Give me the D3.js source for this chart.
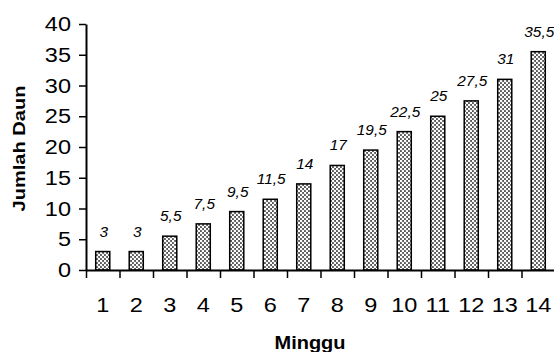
<!DOCTYPE html>
<html lang="en">
<head>
    <meta charset="UTF-8">
    <title>Jumlah Daun</title>
    <script src="https://d3js.org/d3.v7.min.js"></script>
    <style>
        body { margin: 0; background: #fff; }
        svg { display: block; }
    </style>
</head>
<body>
<div id="chart"></div>

<script>
    const weeks = ["1", "2", "3", "4", "5", "6", "7", "8", "9", "10", "11", "12", "13", "14"];
    const leaves = [3, 3, 5.5, 7.5, 9.5, 11.5, 14, 17, 19.5, 22.5, 25, 27.5, 31, 35.5];
    const yTicks = [0, 5, 10, 15, 20, 25, 30, 35, 40];

    const width = 554, height = 352;
    const plotLeft = 86, plotRight = 555, plotTop = 24, plotBottom = 270;
    const font = "'Liberation Sans', Arial, sans-serif";

    let svg = d3.select("#chart")
        .append("svg")
        .attr("width", width)
        .attr("height", height);

    // hatched grey fill like the old excel bars
    let pat = svg.append("defs").append("pattern")
        .attr("id", "hatch")
        .attr("patternUnits", "userSpaceOnUse")
        .attr("width", 4)
        .attr("height", 4);
    pat.append("rect").attr("width", 4).attr("height", 4).attr("fill", "#5a5a5a");
    pat.append("circle").attr("cx", 1).attr("cy", 1).attr("r", 1.25).attr("fill", "#fff");
    pat.append("circle").attr("cx", 3).attr("cy", 3).attr("r", 1.25).attr("fill", "#fff");

    let x = d3.scaleBand().domain(weeks).range([plotLeft, plotRight]).paddingInner(0.58).paddingOuter(0.29);
    let xEdge = d3.scaleLinear().domain([0, weeks.length]).range([plotLeft, plotRight]);
    let y = d3.scaleLinear().domain([0, 40]).range([plotBottom, plotTop]);

    // bars
    svg.append("g").selectAll("rect")
        .data(leaves)
        .join("rect")
        .attr("x", (d, i) => x(weeks[i]))
        .attr("y", d => y(d))
        .attr("width", x.bandwidth())
        .attr("height", d => y(0) - y(d))
        .attr("fill", "url(#hatch)")
        .attr("stroke", "#000")
        .attr("stroke-width", 1.5);

    // value labels
    svg.append("g").selectAll("text")
        .data(leaves)
        .join("text")
        .attr("transform", (d, i) => `translate(${x(weeks[i]) + x.bandwidth() / 2 + 1},${y(d) - 15}) scale(1.1,1)`)
        .attr("text-anchor", "middle")
        .style("font-family", font)
        .style("font-style", "italic")
        .style("font-size", "14px")
        .text(d => String(d).replace(".", ","));

    // y axis
    let yAxis = svg.append("g")
        .attr("transform", `translate(${plotLeft},0)`)
        .call(d3.axisLeft(y).tickValues(yTicks).tickSizeInner(7).tickSizeOuter(0));
    yAxis.select(".domain").attr("stroke-width", 2);
    yAxis.selectAll(".tick line").attr("stroke-width", 1.5);
    yAxis.selectAll(".tick text")
        .attr("x", null)
        .attr("transform", "translate(-15,0) scale(1.12,1)")
        .attr("fill", "#000")
        .style("font-family", font)
        .style("font-size", "21px");

    // x axis: ticks between categories
    let xAxis = svg.append("g")
        .attr("transform", `translate(0,${plotBottom})`)
        .call(d3.axisBottom(xEdge).tickValues(d3.range(0, weeks.length + 1)).tickFormat("").tickSizeInner(8).tickSizeOuter(0));
    xAxis.select(".domain").attr("stroke-width", 2);
    xAxis.selectAll(".tick line").attr("stroke-width", 1.5);

    let xLabels = svg.append("g")
        .attr("transform", `translate(0,${plotBottom})`)
        .call(d3.axisBottom(x).tickSize(0));
    xLabels.select(".domain").remove();
    xLabels.selectAll(".tick text")
        .attr("y", null)
        .attr("dy", null)
        .attr("transform", "translate(0,42) scale(1.12,1)")
        .attr("fill", "#000")
        .style("font-family", font)
        .style("font-size", "21px");

    // axis titles
    svg.append("text")
        .attr("transform", "translate(310,349) scale(1.11,1)")
        .attr("text-anchor", "middle")
        .style("font-family", font)
        .style("font-weight", "bold")
        .style("font-size", "18px")
        .text("Minggu");

    svg.append("text")
        .attr("transform", "translate(25,148.5) rotate(-90) scale(1.18,1)")
        .attr("text-anchor", "middle")
        .style("font-family", font)
        .style("font-weight", "bold")
        .style("font-size", "17px")
        .text("Jumlah Daun");
</script>
</body>
</html>
